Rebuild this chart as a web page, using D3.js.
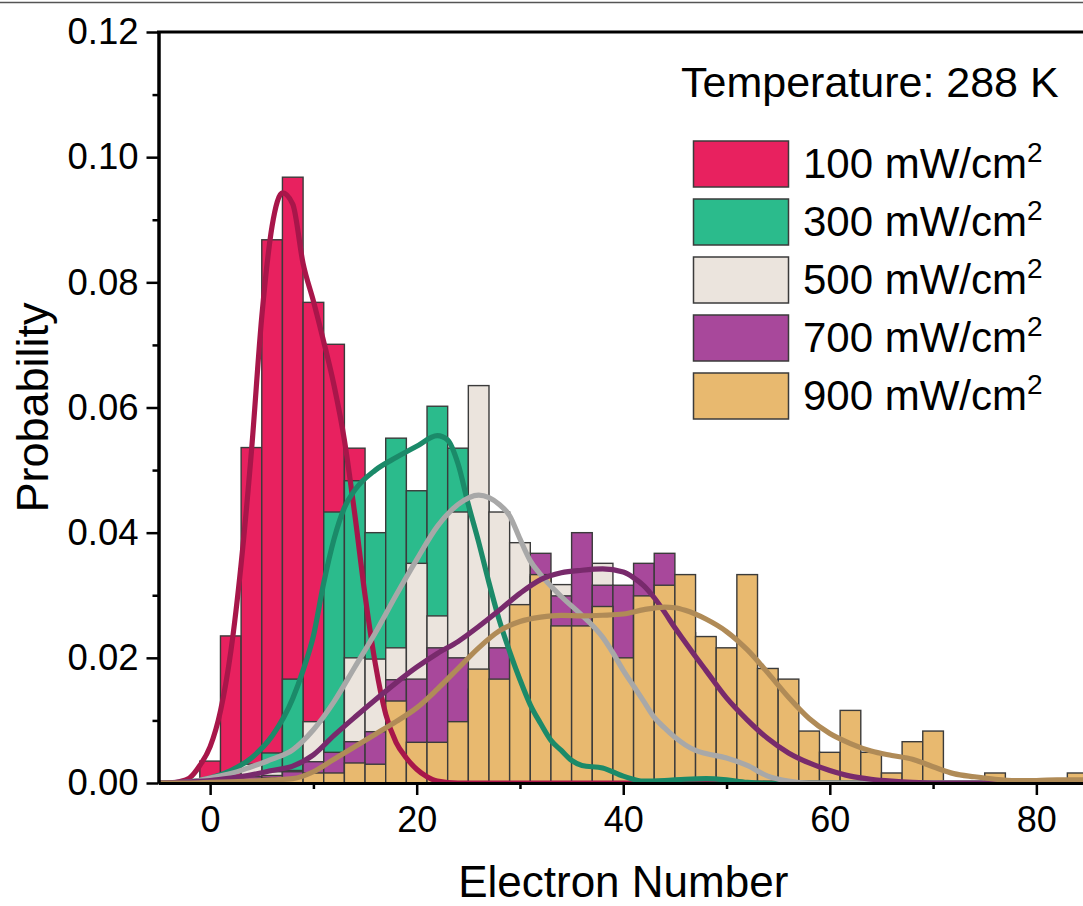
<!DOCTYPE html>
<html><head><meta charset="utf-8">
<script src="https://cdn.jsdelivr.net/npm/d3@7"></script>
<style>html,body{margin:0;padding:0;background:#fff;overflow:hidden}</style>
</head><body>
<svg id="chart" width="1083" height="906"></svg>
<script>
// ---- data ----
const binCenters = [0,2,4,6,8,10,12,14,16,18,20,22,24,26,28,30,32,34,36,38,40,42,44,46,48,50,52,54,56,58,60,62,64,66,68,70,72,74,76,78,80,82,84];
const seriesNames = ["100", "300", "500", "700", "900"];
const hist100 = [0.0035,0.0235,0.0536,0.0868,0.0968,0.0768,0.0701,0.0535,0.018,0.010,0.003,0.001,0,0,0,0,0,0,0,0,0,0,0,0,0,0,0,0,0,0,0,0,0,0,0,0,0,0,0,0,0,0,0];
const hist300 = [0,0.001,0.002,0.0048,0.0166,0.006,0.0433,0.0483,0.0400,0.0551,0.0467,0.0602,0.0535,0.045,0.030,0.020,0.010,0.004,0.004,0.003,0.001,0,0,0.001,0.002,0,0,0,0,0,0,0,0,0,0,0,0,0,0,0,0,0,0];
const hist500 = [0,0.001,0.003,0.0018,0.002,0.0098,0.004,0.0200,0.0198,0.0216,0.0351,0.0267,0.0433,0.0635,0.0433,0.0384,0.033,0.0317,0.030,0.0351,0.014,0.008,0.005,0.003,0.003,0.002,0,0,0,0,0,0,0,0,0,0,0,0,0,0,0,0,0];
const hist700 = [0,0.0005,0.001,0.0012,0.0018,0.0034,0.0049,0.0066,0.0082,0.0165,0.0166,0.0216,0.0200,0.015,0.0216,0.026,0.0367,0.0299,0.0400,0.0316,0.0316,0.0351,0.0367,0.024,0.019,0.016,0.013,0.010,0.007,0.005,0.003,0.002,0.001,0.001,0,0,0,0,0,0,0,0,0];
const hist900 = [0,0,0.0005,0.0008,0.0008,0.0016,0.0016,0.0032,0.0030,0.0131,0.0065,0.0065,0.0098,0.0182,0.0166,0.0285,0.0333,0.0251,0.0251,0.0282,0.0200,0.0299,0.0316,0.0333,0.0234,0.0216,0.0333,0.0183,0.0166,0.0083,0.0049,0.0116,0.0049,0.0016,0.0066,0.0083,0,0,0.0016,0,0,0,0.0016];

// fitted curves: [electron number, probability]
const curve100 = [[-5,0],[-4,0],[-3,0.0002],[-2,0.0008],[-1,0.0028],[0,0.0058],[1,0.0115],[2,0.021],[3,0.035],[4,0.053],[5,0.0745],[6,0.089],[7,0.0943],[8,0.0925],[9,0.083],[10,0.077],[11,0.0705],[12,0.0635],[13,0.0548],[14,0.043],[15,0.030],[16,0.019],[17,0.011],[18,0.0065],[19,0.004],[20,0.0022],[21,0.001],[22,0.0003],[24,0],[85,0]];
const curve300 = [[-5,0],[-2,0.0002],[0,0.0008],[2,0.002],[4,0.004],[6,0.0075],[8,0.0135],[9,0.018],[10,0.0235],[11,0.032],[12,0.039],[13,0.044],[14,0.0468],[16,0.050],[18,0.052],[20,0.0538],[22,0.0555],[23,0.0548],[24,0.051],[25,0.0445],[26,0.0385],[27,0.032],[28,0.026],[29,0.021],[30,0.0165],[31,0.0125],[32,0.0095],[33,0.0068],[34,0.0052],[35,0.0036],[36,0.0028],[38,0.0024],[40,0.0011],[42,0.0003],[44,0.0004],[46,0.0006],[48,0.0007],[50,0.0005],[52,0.0001],[54,0],[85,0]];
const curve500 = [[-5,0],[-2,0.0002],[0,0.0008],[2,0.0015],[4,0.0026],[6,0.0038],[8,0.0053],[10,0.0085],[12,0.013],[14,0.0185],[16,0.024],[18,0.030],[20,0.0357],[22,0.041],[24,0.0445],[26,0.046],[27,0.0456],[28,0.0445],[29,0.0427],[30,0.039],[31,0.0355],[32,0.0333],[34,0.0298],[36,0.0268],[37,0.0252],[38,0.0233],[39,0.0208],[40,0.018],[41,0.0155],[42,0.013],[43,0.0105],[44,0.0088],[45,0.0073],[46,0.0061],[47,0.0052],[48,0.0047],[50,0.004],[52,0.0028],[54,0.0011],[56,0.0003],[58,0],[85,0]];
const curve700 = [[-5,0],[-2,0.0002],[0,0.0004],[2,0.0008],[4,0.0013],[6,0.002],[8,0.0027],[10,0.0045],[12,0.0076],[14,0.0105],[16,0.0133],[18,0.016],[20,0.0185],[22,0.0207],[24,0.0226],[26,0.025],[28,0.0276],[30,0.0303],[32,0.0325],[34,0.0336],[36,0.034],[38,0.0342],[40,0.0337],[41,0.0328],[42,0.0315],[43,0.0296],[44,0.0273],[45,0.0248],[46,0.0225],[47,0.0202],[48,0.018],[50,0.0136],[52,0.0101],[54,0.0071],[56,0.0048],[58,0.0032],[60,0.002],[62,0.0011],[64,0.0006],[66,0.0003],[68,0.0001],[70,0],[85,0]];
const curve900 = [[-5,0],[-2,0],[0,0.0001],[2,0.0002],[4,0.0003],[6,0.0005],[8,0.0007],[10,0.0018],[12,0.0038],[14,0.0058],[16,0.0078],[18,0.0098],[20,0.012],[22,0.015],[24,0.0183],[26,0.0216],[28,0.0243],[30,0.0258],[32,0.0265],[34,0.0268],[36,0.0267],[38,0.0268],[40,0.027],[42,0.0277],[44,0.0281],[45,0.028],[46,0.0276],[48,0.0262],[50,0.0242],[52,0.0213],[54,0.0176],[56,0.0137],[58,0.0103],[60,0.0079],[62,0.0063],[64,0.0051],[66,0.0044],[68,0.0038],[70,0.0026],[72,0.0015],[74,0.001],[76,0.0006],[78,0.0004],[80,0.0004],[82,0.0005],[85,0.0005]];

const xMajorTicks = [0,20,40,60,80];
const xMinorTicks = [10,30,50,70];
const yMajorTicks = [0,0.02,0.04,0.06,0.08,0.10,0.12];
const yMinorTicks = [0.01,0.03,0.05,0.07,0.09,0.11];
const legendTitle = "Temperature: 288 K";
const unitText = " mW/cm";

// ---- styles ----
const barColors = ["#E8215F", "#2BBB8C", "#EBE4DD", "#A8489B", "#E8B96F"];
const lineColors = ["#A8164A", "#1B8A69", "#A8A8A8", "#782A6C", "#B08B57"];
const FONT = "'Liberation Sans', Arial, Helvetica, sans-serif";

const svg = d3.select("#chart");
const x = d3.scaleLinear().domain([-5, 85]).range([158.5, 1088]);
const y = d3.scaleLinear().domain([0, 0.12]).range([783, 32]);

svg.append("rect").attr("width",1083).attr("height",906).attr("fill","#fff");
// thin page line at top
svg.append("line").attr("x1",0).attr("x2",1083).attr("y1",2.5).attr("y2",2.5)
  .attr("stroke","#555").attr("stroke-width",1.3);

svg.append("clipPath").attr("id","plotclip").append("rect")
  .attr("x", x(-5)).attr("y", y(0.12)).attr("width", x(85)-x(-5)).attr("height", y(0)-y(0.12));

const hists = [hist100, hist300, hist500, hist700, hist900];
const curves = [curve100, curve300, curve500, curve700, curve900];

const plot = svg.append("g").attr("clip-path","url(#plotclip)");
hists.forEach((h, si) => {
  const data = binCenters.map((c, i) => ({c, v: h[i]})).filter(d => d.v > 0);
  plot.append("g").selectAll("rect").data(data).join("rect")
    .attr("x", d => x(d.c - 1))
    .attr("width", d => x(d.c + 1) - x(d.c - 1))
    .attr("y", d => y(d.v))
    .attr("height", d => y(0) - y(d.v))
    .attr("fill", barColors[si])
    .attr("stroke", "#3b3b3b")
    .attr("stroke-width", 1.4);
});

const line = d3.line().x(d => x(d[0])).y(d => y(d[1])).curve(d3.curveMonotoneX);
curves.forEach((cv, si) => {
  plot.append("path").datum(cv).attr("d", line)
    .attr("fill","none").attr("stroke", lineColors[si])
    .attr("stroke-width", 5.2).attr("stroke-linejoin","round").attr("stroke-linecap","round");
});

// ---- axes ----
function styleAxis(g){
  g.selectAll(".domain").attr("stroke","#000").attr("stroke-width",3);
  g.selectAll(".tick line").attr("stroke","#000").attr("stroke-width",2.5);
  g.selectAll("text").attr("font-family",FONT).attr("fill","#000");
}
const gxMinor = svg.append("g").attr("transform",`translate(0,${y(0)})`)
  .call(d3.axisBottom(x).tickValues(xMinorTicks).tickSize(6).tickSizeOuter(0).tickFormat(""));
styleAxis(gxMinor);
const gx = svg.append("g").attr("transform",`translate(0,${y(0)})`)
  .call(d3.axisBottom(x).tickValues(xMajorTicks).tickSize(12).tickSizeOuter(0).tickPadding(11).tickFormat(d3.format("d")));
styleAxis(gx);
gx.selectAll("text").attr("font-size",36);

const gyMinor = svg.append("g").attr("transform",`translate(${x(-5)},0)`)
  .call(d3.axisLeft(y).tickValues(yMinorTicks).tickSize(6).tickSizeOuter(0).tickFormat(""));
styleAxis(gyMinor);
const gy = svg.append("g").attr("transform",`translate(${x(-5)},0)`)
  .call(d3.axisLeft(y).tickValues(yMajorTicks).tickSize(12).tickSizeOuter(0).tickPadding(8).tickFormat(d3.format(".2f")));
styleAxis(gy);
gy.selectAll("text").attr("font-size",36.5);

// top frame
svg.append("line").attr("x1", x(-5)-1.5).attr("x2", x(85)).attr("y1", y(0.12)).attr("y2", y(0.12))
  .attr("stroke","#000").attr("stroke-width",3);
svg.append("line").attr("x1", x(85)).attr("x2", x(85)).attr("y1", y(0.12)).attr("y2", y(0))
  .attr("stroke","#000").attr("stroke-width",3);

// axis titles
svg.append("text").attr("x", (x(-5)+x(85))/2).attr("y", 897).attr("text-anchor","middle")
  .attr("font-family",FONT).attr("font-size",44).text("Electron Number");
svg.append("text").attr("transform",`translate(48,${(y(0)+y(0.12))/2}) rotate(-90)`).attr("text-anchor","middle")
  .attr("font-family",FONT).attr("font-size",45).text("Probability");

// legend
svg.append("text").attr("x",681).attr("y",97).attr("font-family",FONT).attr("font-size",43).text(legendTitle);
const lg = svg.append("g");
seriesNames.forEach((n, i) => {
  const top = 141 + i*58;
  lg.append("rect").attr("x",693.5).attr("y",top).attr("width",95).attr("height",46)
    .attr("fill",barColors[i]).attr("stroke","#3b3b3b").attr("stroke-width",1.5);
  const t = lg.append("text").attr("x",803).attr("y",top+37).attr("font-family",FONT).attr("font-size",42);
  t.append("tspan").text(n + unitText);
  t.append("tspan").attr("font-size",28).attr("dy",-16).text("2");
});
</script>
</body></html>
